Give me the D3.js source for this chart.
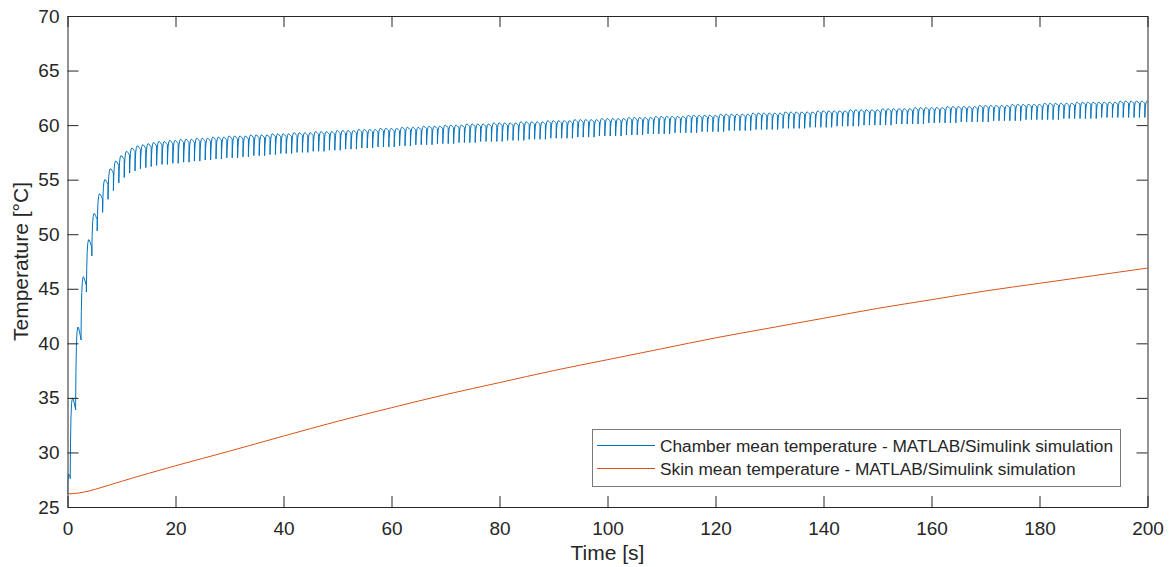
<!DOCTYPE html>
<html>
<head>
<meta charset="utf-8">
<script src="https://cdn.jsdelivr.net/npm/d3@7"></script>
<style>
  body { margin: 0; background: #fff; }
  svg { display: block; font-family: "Liberation Sans", Arial, Helvetica, sans-serif; }
</style>
</head>
<body>
<svg id="chart" width="1172" height="567"></svg>
<script>
// axis ticks
var xTicks = [0, 20, 40, 60, 80, 100, 120, 140, 160, 180, 200];
var yTicks = [25, 30, 35, 40, 45, 50, 55, 60, 65, 70];

var seriesNames = [
  "Chamber mean temperature - MATLAB/Simulink simulation",
  "Skin mean temperature - MATLAB/Simulink simulation"
];

// chamber: one on/off cycle per second, drop at t = k + 0.5
// peak = top of each arch, trough = bottom after the drop
var chamberStart = 26.2;
var chamberPeak = [
  28.0, 35.0, 41.5, 46.1, 49.5, 51.9, 53.7, 55.0, 56.0, 56.7,
  57.2, 57.6, 57.9, 58.1, 58.2, 58.3, 58.4, 58.5, 58.5, 58.6,
  58.6, 58.7, 58.7, 58.7, 58.8, 58.8, 58.8, 58.9, 58.9, 58.9,
  59.0, 59.0, 59.0, 59.0, 59.1, 59.1, 59.1, 59.1, 59.2, 59.2,
  59.2, 59.2, 59.3, 59.3, 59.3, 59.3, 59.4, 59.4, 59.4, 59.4,
  59.5, 59.5, 59.5, 59.5, 59.6, 59.6, 59.6, 59.6, 59.7, 59.7,
  59.7, 59.7, 59.8, 59.8, 59.8, 59.8, 59.9, 59.9, 59.9, 59.9,
  60.0, 60.0, 60.0, 60.0, 60.1, 60.1, 60.1, 60.1, 60.1, 60.2,
  60.2, 60.2, 60.2, 60.2, 60.3, 60.3, 60.3, 60.3, 60.3, 60.4,
  60.4, 60.4, 60.4, 60.4, 60.5, 60.5, 60.5, 60.5, 60.5, 60.6,
  60.6, 60.6, 60.6, 60.6, 60.7, 60.7, 60.7, 60.7, 60.7, 60.8,
  60.8, 60.8, 60.8, 60.8, 60.8, 60.9, 60.9, 60.9, 60.9, 60.9,
  60.9, 61.0, 61.0, 61.0, 61.0, 61.0, 61.0, 61.1, 61.1, 61.1,
  61.1, 61.1, 61.1, 61.2, 61.2, 61.2, 61.2, 61.2, 61.2, 61.3,
  61.3, 61.3, 61.3, 61.3, 61.3, 61.4, 61.4, 61.4, 61.4, 61.4,
  61.4, 61.5, 61.5, 61.5, 61.5, 61.5, 61.5, 61.6, 61.6, 61.6,
  61.6, 61.6, 61.6, 61.7, 61.7, 61.7, 61.7, 61.7, 61.7, 61.8,
  61.8, 61.8, 61.8, 61.8, 61.8, 61.9, 61.9, 61.9, 61.9, 61.9,
  61.9, 62.0, 62.0, 62.0, 62.0, 62.0, 62.0, 62.1, 62.1, 62.1,
  62.1, 62.1, 62.1, 62.1, 62.1, 62.2, 62.2, 62.2, 62.2, 62.2,
  62.2
];
var chamberTrough = [
  27.6, 33.9, 40.3, 44.7, 48.0, 50.3, 52.0, 53.2, 54.0, 54.7,
  55.2, 55.6, 55.8, 56.0, 56.1, 56.2, 56.3, 56.4, 56.4, 56.5,
  56.5, 56.6, 56.6, 56.7, 56.7, 56.8, 56.8, 56.9, 56.9, 57.0,
  57.0, 57.0, 57.1, 57.1, 57.2, 57.2, 57.2, 57.3, 57.3, 57.4,
  57.4, 57.4, 57.5, 57.5, 57.5, 57.6, 57.6, 57.6, 57.7, 57.7,
  57.7, 57.8, 57.8, 57.8, 57.9, 57.9, 57.9, 58.0, 58.0, 58.0,
  58.0, 58.1, 58.1, 58.1, 58.2, 58.2, 58.2, 58.2, 58.3, 58.3,
  58.3, 58.3, 58.4, 58.4, 58.4, 58.4, 58.5, 58.5, 58.5, 58.5,
  58.5, 58.6, 58.6, 58.6, 58.6, 58.7, 58.7, 58.7, 58.7, 58.8,
  58.8, 58.8, 58.8, 58.8, 58.9, 58.9, 58.9, 58.9, 59.0, 59.0,
  59.0, 59.0, 59.0, 59.1, 59.1, 59.1, 59.1, 59.2, 59.2, 59.2,
  59.2, 59.2, 59.3, 59.3, 59.3, 59.3, 59.3, 59.4, 59.4, 59.4,
  59.4, 59.4, 59.5, 59.5, 59.5, 59.5, 59.5, 59.6, 59.6, 59.6,
  59.6, 59.6, 59.7, 59.7, 59.7, 59.7, 59.7, 59.8, 59.8, 59.8,
  59.8, 59.8, 59.9, 59.9, 59.9, 59.9, 59.9, 60.0, 60.0, 60.0,
  60.0, 60.0, 60.0, 60.1, 60.1, 60.1, 60.1, 60.1, 60.1, 60.2,
  60.2, 60.2, 60.2, 60.2, 60.2, 60.3, 60.3, 60.3, 60.3, 60.3,
  60.3, 60.4, 60.4, 60.4, 60.4, 60.4, 60.4, 60.5, 60.5, 60.5,
  60.5, 60.5, 60.5, 60.5, 60.6, 60.6, 60.6, 60.6, 60.6, 60.6,
  60.6, 60.7, 60.7, 60.7, 60.7, 60.7, 60.7, 60.7, 60.7, 60.7,
  60.7
];
var cycleOffset = 0.5, cyclePeriod = 1.0;

// skin: smooth curve
var skinTime = [0, 2, 4, 6, 8, 10, 12, 15, 20, 25, 30, 40, 50, 60, 70, 80, 90, 100,
                110, 120, 130, 140, 150, 160, 170, 180, 190, 200];
var skinTemp = [26.2, 26.28, 26.47, 26.75, 27.05, 27.35, 27.65, 28.08, 28.78, 29.45, 30.12,
                31.5, 32.85, 34.1, 35.3, 36.4, 37.5, 38.5, 39.5, 40.5, 41.4, 42.3, 43.2,
                44.0, 44.8, 45.5, 46.2, 46.9];

// shape of one heating arch (fraction of cycle -> fraction of rise)
var archPhase = [0, 0.06, 0.14, 0.25, 0.4, 0.55, 0.7, 0.85, 1.0];
var archLevel = [0, 0.45, 0.75, 0.93, 1.0, 0.99, 0.95, 0.9, 0.86];

var svg = d3.select("#chart");
var margin = {top: 16, right: 24.5, bottom: 60, left: 67.5};
var width = +svg.attr("width") - margin.left - margin.right,
    height = +svg.attr("height") - margin.top - margin.bottom;

var x = d3.scaleLinear().domain([0, 200]).range([0, width]);
var y = d3.scaleLinear().domain([25, 70]).range([height, 0]);

var blue = "#0072BD", orange = "#D95319", axisColor = "#262626";

var g = svg.append("g").attr("transform", "translate(" + margin.left + "," + margin.top + ")");

g.append("clipPath").attr("id", "clip")
  .append("rect").attr("width", width).attr("height", height);

// build chamber points cycle by cycle
var chamberPts = [];
for (var k = 0; k < chamberPeak.length; k++) {
  var t1 = cycleOffset + k * cyclePeriod;
  var t0 = k === 0 ? 0 : t1 - cyclePeriod;
  var base = k === 0 ? chamberStart : chamberTrough[k - 1];
  var peak = chamberPeak[k];
  for (var j = (k === 0 ? 0 : 1); j < archPhase.length; j++) {
    chamberPts.push([t0 + archPhase[j] * (t1 - t0), base + (peak - base) * archLevel[j]]);
  }
  chamberPts.push([t1, chamberTrough[k]]);
}

var skinPts = skinTime.map(function(t, i) { return [t, skinTemp[i]]; });

var plot = g.append("g").attr("clip-path", "url(#clip)");

plot.append("path")
  .datum(chamberPts)
  .attr("fill", "none")
  .attr("stroke", blue)
  .attr("stroke-width", 1)
  .attr("d", d3.line().x(function(d) { return x(d[0]); }).y(function(d) { return y(d[1]); }));

plot.append("path")
  .datum(skinPts)
  .attr("fill", "none")
  .attr("stroke", orange)
  .attr("stroke-width", 1)
  .attr("d", d3.line().curve(d3.curveMonotoneX)
    .x(function(d) { return x(d[0]); }).y(function(d) { return y(d[1]); }));

// axes, MATLAB style: inward ticks on all four sides
var tickLen = 11;
var fontSize = "19px";

function styleAxis(sel) {
  sel.select(".domain").attr("stroke", axisColor);
  sel.selectAll(".tick line").attr("stroke", axisColor);
  sel.selectAll(".tick text").attr("fill", axisColor).style("font-size", fontSize)
    .style("font-family", '"Liberation Sans", Arial, sans-serif');
}

g.append("g").attr("transform", "translate(0," + height + ")")
  .call(d3.axisBottom(x).tickValues(xTicks).tickSizeInner(-tickLen).tickSizeOuter(0).tickPadding(15))
  .call(styleAxis);
g.append("g")
  .call(d3.axisTop(x).tickValues(xTicks).tickSizeInner(-tickLen).tickSizeOuter(0).tickFormat(""))
  .call(styleAxis);
g.append("g")
  .call(d3.axisLeft(y).tickValues(yTicks).tickSizeInner(-tickLen).tickSizeOuter(0).tickPadding(8))
  .call(styleAxis);
g.append("g").attr("transform", "translate(" + width + ",0)")
  .call(d3.axisRight(y).tickValues(yTicks).tickSizeInner(-tickLen).tickSizeOuter(0).tickFormat(""))
  .call(styleAxis);

// axis labels
g.append("text")
  .attr("x", width / 2).attr("y", height + 53)
  .attr("text-anchor", "middle")
  .attr("fill", axisColor)
  .style("font-size", "21px")
  .text("Time [s]");

g.append("text")
  .attr("transform", "translate(" + (-40) + "," + (height / 2) + ") rotate(-90)")
  .attr("text-anchor", "middle")
  .attr("fill", axisColor)
  .style("font-size", "21px")
  .text("Temperature [\u00B0C]");

// legend
var legX = 592 - margin.left, legY = 429 - margin.top, legW = 528, legH = 57;
var legend = g.append("g");
legend.append("rect")
  .attr("x", legX + 0.5).attr("y", legY + 0.5)
  .attr("width", legW).attr("height", legH)
  .attr("fill", "#fff").attr("stroke", "#7a7a7a").attr("stroke-width", 1);

[blue, orange].forEach(function(c, i) {
  var ly = legY + 16.5 + i * 23;
  legend.append("line")
    .attr("x1", legX + 5).attr("x2", legX + 63)
    .attr("y1", ly).attr("y2", ly)
    .attr("stroke", c).attr("stroke-width", 1);
  legend.append("text")
    .attr("x", legX + 68).attr("y", ly + 6)
    .attr("fill", axisColor)
    .style("font-size", "17.3px")
    .text(seriesNames[i]);
});
</script>
</body>
</html>
